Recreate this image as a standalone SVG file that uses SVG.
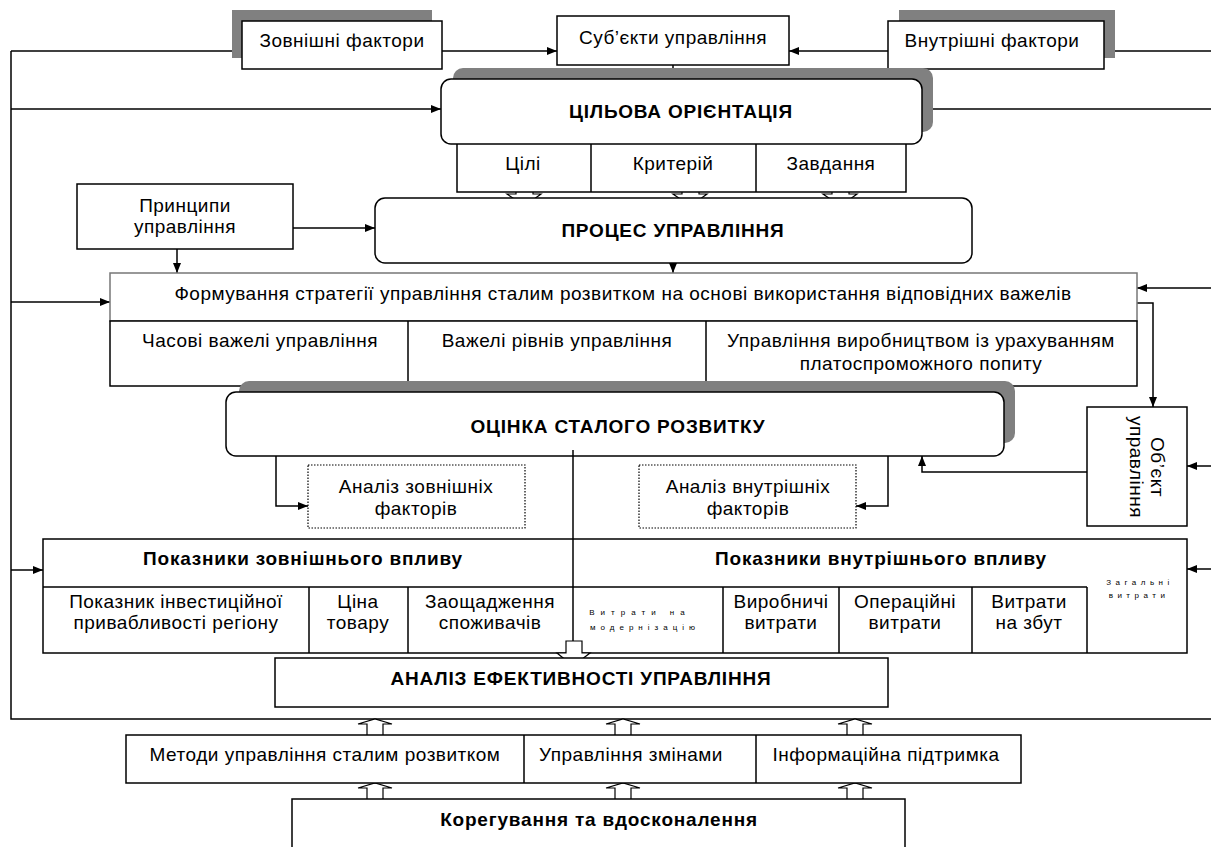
<svg xmlns="http://www.w3.org/2000/svg" width="1211" height="847" viewBox="0 0 1211 847">
<style>
text{font-family:"Liberation Sans",Arial,sans-serif;font-size:19px;letter-spacing:0.5px;fill:#000;text-anchor:middle}
.b{font-weight:bold;letter-spacing:0.8px}
.t{font-size:8px}
.box{fill:#fff;stroke:#000;stroke-width:1.5}
.gbox{fill:#fff;stroke:#777;stroke-width:1.5}
.dot{fill:#fff;stroke:#000;stroke-width:1.2;stroke-dasharray:1.5 1.5}
.sh{fill:#808080;stroke:none}
.ln{fill:none;stroke:#000;stroke-width:1.5}
.stub{fill:#fff;stroke:#000;stroke-width:1.2}
</style>
<defs>
<marker id="ah" viewBox="0 0 10 8" refX="10" refY="4" markerWidth="10" markerHeight="8" markerUnits="userSpaceOnUse" orient="auto">
<path d="M0,0 L10,4 L0,8 Z" fill="#000"/>
</marker>
</defs>

<g id="connectors">
<path class="ln" d="M11,51 V719 H1211"/>
<path class="ln" d="M11,51 H242"/>
<path class="ln" d="M442,51 H557" marker-end="url(#ah)"/>
<path class="ln" d="M888,51 H789" marker-end="url(#ah)"/>
<path class="ln" d="M1104,51 H1211"/>
<path class="ln" d="M11,109 H441" marker-end="url(#ah)"/>
<path class="ln" d="M1211,109 H922" marker-end="url(#ah)"/>
<path class="ln" d="M673,65 V79"/>
<path class="ln" d="M293,228 H375" marker-end="url(#ah)"/>
<path class="ln" d="M177,249 V273" marker-end="url(#ah)"/>
<path class="ln" d="M673,263 V273" marker-end="url(#ah)"/>
<path class="ln" d="M11,302 H110" marker-end="url(#ah)"/>
<path class="ln" d="M1211,288 H1137" marker-end="url(#ah)"/>
<path class="ln" d="M1137,303 H1153 V407" marker-end="url(#ah)"/>
<path class="ln" d="M276,456 V506 H308" marker-end="url(#ah)"/>
<path class="ln" d="M888,456 V506 H856" marker-end="url(#ah)"/>
<path class="ln" d="M1087,472 H922 V456" marker-end="url(#ah)"/>
<path class="ln" d="M1211,466 H1187" marker-end="url(#ah)"/>
<path class="ln" d="M11,570 H43" marker-end="url(#ah)"/>
<path class="ln" d="M1211,569 H1187" marker-end="url(#ah)"/>
</g>

<g id="zovnishni">
<rect class="sh" x="232" y="10" width="200" height="48"/>
<rect class="box" x="242" y="21" width="200" height="48"/>
<text x="342" y="47">Зовнішні фактори</text>
</g>
<g id="subekty">
<rect class="box" x="557" y="16" width="232" height="49"/>
<text x="673" y="44">Суб’єкти управління</text>
</g>
<g id="vnutrishni">
<rect class="sh" x="899" y="10" width="216" height="48"/>
<rect class="box" x="888" y="21" width="216" height="48"/>
<text x="992" y="47">Внутрішні фактори</text>
</g>

<g id="stubs1">
<path class="stub" d="M516,194 V183 H533 V194 L541,194 L524.5,206 L507,194 Z"/>
<path class="stub" d="M682,194 V183 H699 V194 L707,194 L690.5,206 L673,194 Z"/>
<path class="stub" d="M832,194 V183 H849 V194 L857,194 L840.5,206 L823,194 Z"/>
</g>

<g id="tsili-row">
<rect class="box" x="457" y="140" width="449" height="52"/>
<path class="ln" d="M591,144 V192 M756,144 V192"/>
<text x="523" y="170">Цілі</text>
<text x="673" y="170">Критерій</text>
<text x="831" y="170">Завдання</text>
</g>
<g id="tsilova">
<rect class="sh" x="453" y="68" width="480" height="64" rx="10"/>
<rect class="box" x="441" y="79" width="481" height="65" rx="10"/>
<text class="b" x="681" y="118">ЦІЛЬОВА ОРІЄНТАЦІЯ</text>
</g>

<g id="pryntsypy">
<rect class="box" x="77" y="184" width="216" height="65"/>
<text x="185" y="212">Принципи</text>
<text x="185" y="233">управління</text>
</g>
<g id="protses">
<rect class="box" x="375" y="198" width="597" height="65" rx="10"/>
<text class="b" x="673" y="237">ПРОЦЕС УПРАВЛІННЯ</text>
</g>

<g id="formuvannia">
<rect class="gbox" x="110" y="273" width="1027" height="48"/>
<text x="623" y="300">Формування стратегії управління сталим розвитком на основі використання відповідних важелів</text>
</g>
<g id="stubs2">
<path class="stub" d="M284,387 V375 H301 V387 L309,387 L292.5,399 L276,387 Z"/>
<path class="stub" d="M566,387 V375 H582 V387 L590,387 L574,399 L558,387 Z"/>
<path class="stub" d="M897,387 V375 H913 V387 L921,387 L905,399 L889,387 Z"/>
</g>
<g id="vazheli-row">
<rect class="box" x="110" y="321" width="1027" height="65"/>
<path class="ln" d="M408,321 V386 M706,321 V386"/>
<text x="260" y="347">Часові важелі управління</text>
<text x="557" y="347">Важелі рівнів управління</text>
<text x="921" y="347">Управління виробництвом із урахуванням</text>
<text x="921" y="370">платоспроможного попиту</text>
</g>

<g id="otsinka">
<rect class="sh" x="239" y="381" width="776" height="62" rx="10"/>
<rect class="box" x="226" y="392" width="778" height="64" rx="10"/>
<text class="b" x="618" y="433">ОЦІНКА СТАЛОГО РОЗВИТКУ</text>
</g>

<g id="analiz-zovn">
<rect class="dot" x="308" y="465" width="217" height="63"/>
<text x="416" y="493">Аналіз зовнішніх</text>
<text x="416" y="515">факторів</text>
</g>
<g id="analiz-vnutr">
<rect class="dot" x="639" y="465" width="217" height="63"/>
<text x="748" y="493">Аналіз внутрішніх</text>
<text x="748" y="515">факторів</text>
</g>

<g id="obekt">
<rect class="box" x="1087" y="407" width="100" height="119"/>
<g transform="translate(1145,467) rotate(90)">
<text x="0" y="-6">Об’єкт</text>
<text x="0" y="15">управління</text>
</g>
</g>

<g id="pokaznyky">
<rect class="box" x="43" y="539" width="1144" height="114"/>
<path class="ln" d="M43,587 H1087 M309,587 V653 M408,587 V653 M723,587 V653 M839,587 V653 M972,587 V653 M1087,587 V653"/>
<text class="b" x="303" y="565">Показники зовнішнього впливу</text>
<text class="b" x="881" y="565">Показники внутрішнього впливу</text>
<text x="176" y="608">Показник інвестиційної</text>
<text x="176" y="629">привабливості регіону</text>
<text x="358" y="608">Ціна</text>
<text x="358" y="629">товару</text>
<text x="490" y="608">Заощадження</text>
<text x="490" y="629">споживачів</text>
<text class="t" x="640" y="615" style="letter-spacing:6px">Витрати на</text>
<text class="t" x="645" y="630" style="letter-spacing:5px">модернізацію</text>
<text x="781" y="608">Виробничі</text>
<text x="781" y="629">витрати</text>
<text x="905" y="608">Операційні</text>
<text x="905" y="629">витрати</text>
<text x="1029" y="608">Витрати</text>
<text x="1029" y="629">на збут</text>
<text class="t" x="1140" y="585" style="letter-spacing:4.5px">Загальні</text>
<text class="t" x="1139" y="598" style="letter-spacing:4.5px">витрати</text>
</g>

<g id="center-connector">
<path class="ln" d="M573,450 V641"/>
<path class="stub" d="M566,641 V653 L557,653 L573,666 L590,653 L582,653 V641 Z"/>
</g>

<g id="analiz-ef">
<rect class="box" x="275" y="658" width="613" height="49"/>
<text class="b" x="581" y="685">АНАЛІЗ ЕФЕКТИВНОСТІ УПРАВЛІННЯ</text>
</g>

<g id="up-arrows">
<path class="stub" d="M367,736 V724 H358 L375,719 L392,724 H383 V736 Z"/>
<path class="stub" d="M615,736 V724 H606 L623,719 L640,724 H631 V736 Z"/>
<path class="stub" d="M847,736 V724 H838 L855,719 L872,724 H863 V736 Z"/>
<path class="stub" d="M367,800 V788 H358 L375,783 L392,788 H383 V800 Z"/>
<path class="stub" d="M615,800 V788 H606 L623,783 L640,788 H631 V800 Z"/>
<path class="stub" d="M847,800 V788 H838 L855,783 L872,788 H863 V800 Z"/>
</g>

<g id="metody-row">
<rect class="box" x="126" y="735" width="895" height="48"/>
<path class="ln" d="M524,735 V783 M756,735 V783"/>
<text x="325" y="761">Методи управління сталим розвитком</text>
<text x="631" y="761">Управління змінами</text>
<text x="886" y="761">Інформаційна підтримка</text>
</g>

<g id="koreguvannia">
<rect class="box" x="292" y="799" width="613" height="60"/>
<text class="b" x="599" y="826">Корегування та вдосконалення</text>
</g>
</svg>
